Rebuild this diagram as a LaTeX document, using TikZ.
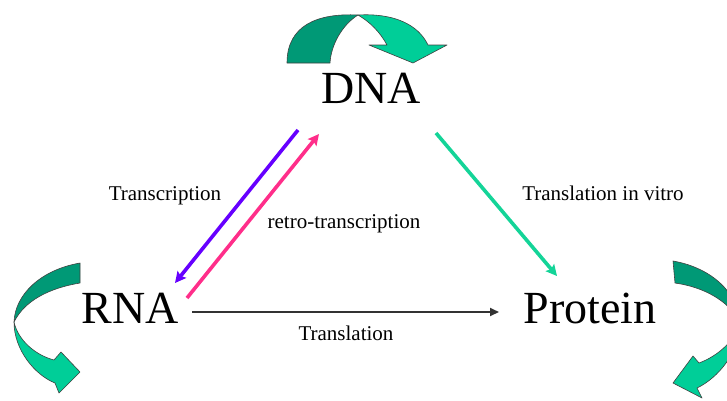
\documentclass[tikz,border=0pt]{standalone}
\usepackage{fontspec}
\setmainfont{Liberation Serif}
\usetikzlibrary{arrows.meta,calc}
\definecolor{purp}{RGB}{102,0,255}
\definecolor{pinkish}{RGB}{255,46,138}
\definecolor{mint}{RGB}{20,212,152}
\definecolor{darkmint}{RGB}{0,153,118}
\definecolor{lightmint}{RGB}{0,206,152}
\tikzset{big/.style = {anchor=base, inner sep=0pt, font=\fontsize{46}{50}\selectfont},
         small/.style = {anchor=base, inner sep=0pt, font=\fontsize{21}{24}\selectfont},
         fat/.style = {line width=3.6pt, -{Stealth[length=11pt,width=11pt,inset=2pt]}},
         ribbon/.style = {draw=black!75, line width=0.6pt, line join=round}}

\begin{document}
\begin{tikzpicture}[x=1pt, y=-1pt]
  	\useasboundingbox (0,0) rectangle (727,400);
  	% the three molecules
  	\node[big] (dna) at (371,103) {DNA};
  	\node[big] (rna) at (130,323) {RNA};
  	\node[big] (prot) at (590,323) {Protein};
  	% arrow ends
  	\coordinate (dnaA) at (298,130);
  	\coordinate (rnaA) at (175,283);
  	\coordinate (rnaB) at (187,298);
  	\coordinate (dnaB) at (319,134);
  	\coordinate (dnaC) at (436,133);
  	\coordinate (protA) at (557,276);
  	\coordinate (rnaC) at (192,312);
  	\coordinate (protB) at (499,312);
    \draw[fat, purp] (dnaA) -- (rnaA);
    \draw[fat, pinkish] (rnaB) -- (dnaB);
    \draw[fat, mint] (dnaC) -- (protA);
    \draw[line width=1.8pt, black!80, -{Triangle[length=9pt,width=8pt]}] (rnaC) -- (protB);
  	% labels
  	\node[small] (tc) at (165,200) {Transcription};
  	\node[small] (rt) at (344,228) {retro-transcription};
  	\node[small] (tv) at (603,200) {Translation in vitro};
  	\node[small] (tl) at (346,340) {Translation};
  	% curved arrow over DNA
    \fill[ribbon, fill=darkmint] (287,63) .. controls (287,25) and (318,13) .. (358,15)
      .. controls (342,25) and (331,45) .. (330,63) -- cycle;
    \fill[ribbon, fill=lightmint] (358,15) .. controls (393,13) and (418,24) .. (428,45)
      -- (447,45) -- (413,63) -- (369,45) -- (387,45)
      .. controls (380,32) and (370,22) .. (358,15) -- cycle;
  	% curved arrow by RNA
    \fill[ribbon, fill=darkmint] (80,263) .. controls (40,270) and (15,295) .. (14,322)
      .. controls (25,300) and (50,288) .. (80,283) -- cycle;
    \fill[ribbon, fill=lightmint] (14,322) .. controls (14,350) and (35,375) .. (55,383)
      -- (59,393) -- (80,372) -- (61,352) -- (54,360)
      .. controls (35,355) and (18,340) .. (14,322) -- cycle;
  	% curved arrow by Protein
    \fill[ribbon, fill=darkmint] (673,261) .. controls (713,268) and (738,294) .. (740,322)
      .. controls (728,300) and (703,287) .. (675,283) -- cycle;
    \fill[ribbon, fill=lightmint] (740,322) .. controls (740,352) and (718,378) .. (697,388)
      -- (702,398) -- (673,383) -- (693,356) -- (699,363)
      .. controls (718,356) and (736,340) .. (740,322) -- cycle;
  \end{tikzpicture}
\end{document}
